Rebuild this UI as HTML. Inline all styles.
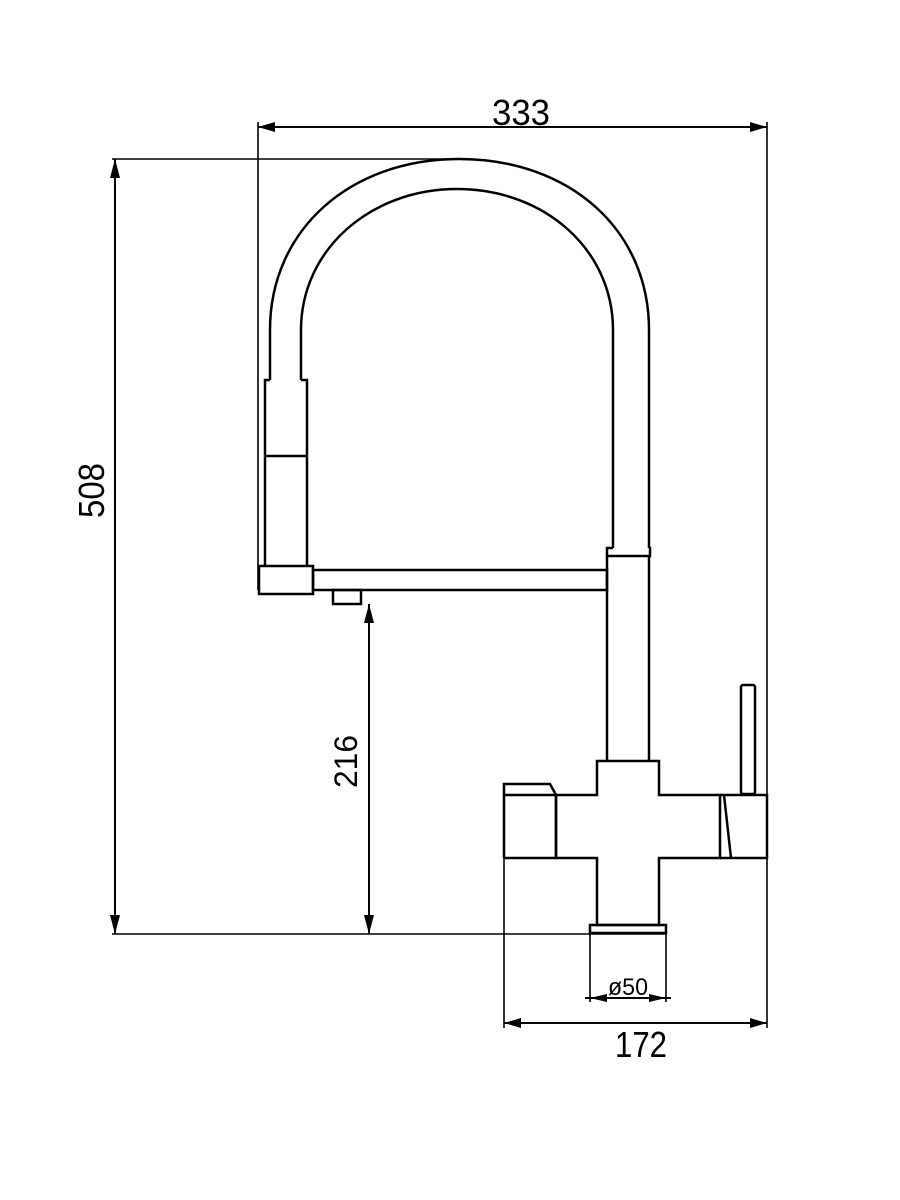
<!DOCTYPE html>
<html><head><meta charset="utf-8"><style>html,body{margin:0;padding:0;background:#fff}svg{display:block}</style></head>
<body>
<svg width="900" height="1200" viewBox="0 0 900 1200" xmlns="http://www.w3.org/2000/svg">
<g fill="none" stroke="#000" stroke-width="2">
<line x1="258" y1="127" x2="767" y2="127"/>
<line x1="258" y1="122" x2="258" y2="590" stroke-width="1.6"/>
<line x1="767" y1="122" x2="767" y2="1028" stroke-width="1.6"/>
<line x1="112" y1="159" x2="460" y2="159" stroke-width="1.6"/>
<line x1="115" y1="159" x2="115" y2="934"/>
<line x1="112" y1="934" x2="666" y2="934" stroke-width="1.6"/>
<line x1="369" y1="604" x2="369" y2="934"/>
<line x1="504" y1="858" x2="504" y2="1028" stroke-width="1.6"/>
<line x1="504" y1="1023" x2="767" y2="1023"/>
<line x1="590" y1="933" x2="590" y2="1002" stroke-width="1.6"/>
<line x1="666" y1="933" x2="666" y2="1002" stroke-width="1.6"/>
<line x1="585" y1="998" x2="671" y2="998"/>
</g>
<g fill="none" stroke="#000" stroke-width="2.5">
<path d="M270 380 L270 330 C270 230 350 159 459 159 C570 159 649 230 649 330 L649 548"/>
<path d="M301 380 L301 330 C301 250 370 189 457 189 C545 189 613 250 613 330 L613 548"/>
<path d="M270 380 L265 380 L265 566 M301 380 L307 380 L307 566"/>
<line x1="265" y1="456" x2="307" y2="456"/>
<rect x="259" y="566" width="54" height="28"/>
<rect x="313" y="570" width="294" height="20"/>
<rect x="333" y="590" width="28" height="14"/>
<path d="M613 548 L607 548 L607 556 L650 556 L650 548 L649 548"/>
<line x1="607" y1="556" x2="607" y2="761"/>
<line x1="649" y1="556" x2="649" y2="761"/>
<path d="M597 761 L659 761 L659 795 L720 795 L720 858 L659 858 L659 925 L597 925 L597 858 L556 858 L556 795 L597 795 Z"/>
<path d="M504 858 L504 784 L550 784 L556 795 M504 795 L556 795 L556 858 L504 858"/>
<path d="M720 795 L767 795 L767 858 L731 858 L724 795 M720 858 L731 858"/>
<rect x="741" y="685" width="14" height="109" rx="2"/>
<rect x="590" y="925" width="76" height="8"/>
</g>
<g fill="#000">
<polygon points="258,127 275,122 275,132"/>
<polygon points="767,127 750,122 750,132"/>
<polygon points="115,159 110,178 120,178"/>
<polygon points="115,934 110,915 120,915"/>
<polygon points="369,604 364,623 374,623"/>
<polygon points="369,934 364,915 374,915"/>
<polygon points="504,1023 521,1018 521,1028"/>
<polygon points="767,1023 750,1018 750,1028"/>
<polygon points="590,998 607,994 607,1002"/>
<polygon points="666,998 649,994 649,1002"/>
</g>
<g font-family="'Liberation Sans', sans-serif" fill="#000">
<text x="492" y="125" font-size="36" textLength="58" lengthAdjust="spacingAndGlyphs">333</text>
<text x="615" y="1057" font-size="36" textLength="52" lengthAdjust="spacingAndGlyphs">172</text>
<text x="608" y="995" font-size="24" textLength="40" lengthAdjust="spacingAndGlyphs">ø50</text>
<text transform="translate(104,518) rotate(-90)" font-size="36" textLength="55" lengthAdjust="spacingAndGlyphs">508</text>
<text transform="translate(357,788) rotate(-90)" font-size="32" textLength="53" lengthAdjust="spacingAndGlyphs">216</text>
</g>
</svg>
</body></html>
